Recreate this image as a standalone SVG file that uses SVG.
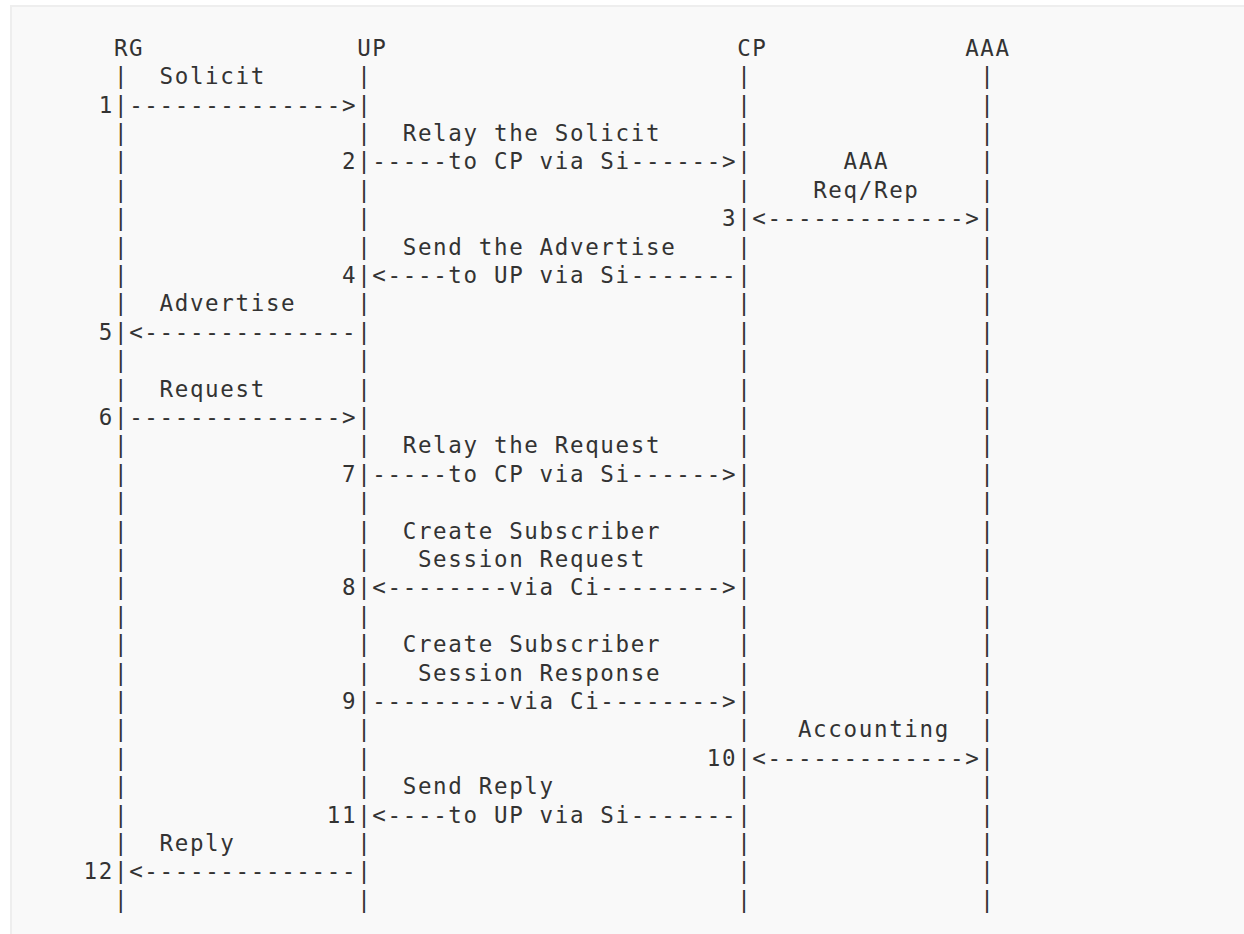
<svg xmlns="http://www.w3.org/2000/svg" width="1244" height="934" viewBox="0 0 1244 934">
<style>
text{font-family:"DejaVu Sans Mono","Liberation Mono",monospace;font-size:22.5px;letter-spacing:1.655px;fill:#333333;white-space:pre}
</style>
<rect x="0" y="0" width="1244" height="934" fill="#ffffff"/>
<rect x="11" y="6" width="1260" height="960" fill="#f9f9f9" stroke="#eeeeee" stroke-width="2"/>
<g id="node-RG">
<text x="113.93" y="55.7">RG</text>
<text><tspan x="113.93" y="84.1">|</tspan><tspan x="113.93" y="112.5">|</tspan><tspan x="113.93" y="140.9">|</tspan><tspan x="113.93" y="169.3">|</tspan><tspan x="113.93" y="197.7">|</tspan><tspan x="113.93" y="226.1">|</tspan><tspan x="113.93" y="254.5">|</tspan><tspan x="113.93" y="282.9">|</tspan><tspan x="113.93" y="311.3">|</tspan><tspan x="113.93" y="339.7">|</tspan><tspan x="113.93" y="368.1">|</tspan><tspan x="113.93" y="396.5">|</tspan><tspan x="113.93" y="424.9">|</tspan><tspan x="113.93" y="453.3">|</tspan><tspan x="113.93" y="481.7">|</tspan><tspan x="113.93" y="510.1">|</tspan><tspan x="113.93" y="538.5">|</tspan><tspan x="113.93" y="566.9">|</tspan><tspan x="113.93" y="595.3">|</tspan><tspan x="113.93" y="623.7">|</tspan><tspan x="113.93" y="652.1">|</tspan><tspan x="113.93" y="680.5">|</tspan><tspan x="113.93" y="708.9">|</tspan><tspan x="113.93" y="737.3">|</tspan><tspan x="113.93" y="765.7">|</tspan><tspan x="113.93" y="794.1">|</tspan><tspan x="113.93" y="822.5">|</tspan><tspan x="113.93" y="850.9">|</tspan><tspan x="113.93" y="879.3">|</tspan><tspan x="113.93" y="907.7">|</tspan></text>
</g>
<g id="node-UP">
<text x="357.13" y="55.7">UP</text>
<text><tspan x="357.13" y="84.1">|</tspan><tspan x="357.13" y="112.5">|</tspan><tspan x="357.13" y="140.9">|</tspan><tspan x="357.13" y="169.3">|</tspan><tspan x="357.13" y="197.7">|</tspan><tspan x="357.13" y="226.1">|</tspan><tspan x="357.13" y="254.5">|</tspan><tspan x="357.13" y="282.9">|</tspan><tspan x="357.13" y="311.3">|</tspan><tspan x="357.13" y="339.7">|</tspan><tspan x="357.13" y="368.1">|</tspan><tspan x="357.13" y="396.5">|</tspan><tspan x="357.13" y="424.9">|</tspan><tspan x="357.13" y="453.3">|</tspan><tspan x="357.13" y="481.7">|</tspan><tspan x="357.13" y="510.1">|</tspan><tspan x="357.13" y="538.5">|</tspan><tspan x="357.13" y="566.9">|</tspan><tspan x="357.13" y="595.3">|</tspan><tspan x="357.13" y="623.7">|</tspan><tspan x="357.13" y="652.1">|</tspan><tspan x="357.13" y="680.5">|</tspan><tspan x="357.13" y="708.9">|</tspan><tspan x="357.13" y="737.3">|</tspan><tspan x="357.13" y="765.7">|</tspan><tspan x="357.13" y="794.1">|</tspan><tspan x="357.13" y="822.5">|</tspan><tspan x="357.13" y="850.9">|</tspan><tspan x="357.13" y="879.3">|</tspan><tspan x="357.13" y="907.7">|</tspan></text>
</g>
<g id="node-CP">
<text x="737.13" y="55.7">CP</text>
<text><tspan x="737.13" y="84.1">|</tspan><tspan x="737.13" y="112.5">|</tspan><tspan x="737.13" y="140.9">|</tspan><tspan x="737.13" y="169.3">|</tspan><tspan x="737.13" y="197.7">|</tspan><tspan x="737.13" y="226.1">|</tspan><tspan x="737.13" y="254.5">|</tspan><tspan x="737.13" y="282.9">|</tspan><tspan x="737.13" y="311.3">|</tspan><tspan x="737.13" y="339.7">|</tspan><tspan x="737.13" y="368.1">|</tspan><tspan x="737.13" y="396.5">|</tspan><tspan x="737.13" y="424.9">|</tspan><tspan x="737.13" y="453.3">|</tspan><tspan x="737.13" y="481.7">|</tspan><tspan x="737.13" y="510.1">|</tspan><tspan x="737.13" y="538.5">|</tspan><tspan x="737.13" y="566.9">|</tspan><tspan x="737.13" y="595.3">|</tspan><tspan x="737.13" y="623.7">|</tspan><tspan x="737.13" y="652.1">|</tspan><tspan x="737.13" y="680.5">|</tspan><tspan x="737.13" y="708.9">|</tspan><tspan x="737.13" y="737.3">|</tspan><tspan x="737.13" y="765.7">|</tspan><tspan x="737.13" y="794.1">|</tspan><tspan x="737.13" y="822.5">|</tspan><tspan x="737.13" y="850.9">|</tspan><tspan x="737.13" y="879.3">|</tspan><tspan x="737.13" y="907.7">|</tspan></text>
</g>
<g id="node-AAA">
<text x="965.13" y="55.7">AAA</text>
<text><tspan x="980.33" y="84.1">|</tspan><tspan x="980.33" y="112.5">|</tspan><tspan x="980.33" y="140.9">|</tspan><tspan x="980.33" y="169.3">|</tspan><tspan x="980.33" y="197.7">|</tspan><tspan x="980.33" y="226.1">|</tspan><tspan x="980.33" y="254.5">|</tspan><tspan x="980.33" y="282.9">|</tspan><tspan x="980.33" y="311.3">|</tspan><tspan x="980.33" y="339.7">|</tspan><tspan x="980.33" y="368.1">|</tspan><tspan x="980.33" y="396.5">|</tspan><tspan x="980.33" y="424.9">|</tspan><tspan x="980.33" y="453.3">|</tspan><tspan x="980.33" y="481.7">|</tspan><tspan x="980.33" y="510.1">|</tspan><tspan x="980.33" y="538.5">|</tspan><tspan x="980.33" y="566.9">|</tspan><tspan x="980.33" y="595.3">|</tspan><tspan x="980.33" y="623.7">|</tspan><tspan x="980.33" y="652.1">|</tspan><tspan x="980.33" y="680.5">|</tspan><tspan x="980.33" y="708.9">|</tspan><tspan x="980.33" y="737.3">|</tspan><tspan x="980.33" y="765.7">|</tspan><tspan x="980.33" y="794.1">|</tspan><tspan x="980.33" y="822.5">|</tspan><tspan x="980.33" y="850.9">|</tspan><tspan x="980.33" y="879.3">|</tspan><tspan x="980.33" y="907.7">|</tspan></text>
</g>
<g id="connectors">
<text x="129.13" y="112.5">--------------&gt;</text>
<text x="372.33" y="169.3">-----to CP via Si------&gt;</text>
<text x="752.33" y="226.1">&lt;-------------&gt;</text>
<text x="372.33" y="282.9">&lt;----to UP via Si-------</text>
<text x="129.13" y="339.7">&lt;--------------</text>
<text x="129.13" y="424.9">--------------&gt;</text>
<text x="372.33" y="481.7">-----to CP via Si------&gt;</text>
<text x="372.33" y="595.3">&lt;--------via Ci--------&gt;</text>
<text x="372.33" y="708.9">---------via Ci--------&gt;</text>
<text x="752.33" y="765.7">&lt;-------------&gt;</text>
<text x="372.33" y="822.5">&lt;----to UP via Si-------</text>
<text x="129.13" y="879.3">&lt;--------------</text>
</g>
<g id="step-numbers">
<text x="98.73" y="112.5">1</text>
<text x="341.93" y="169.3">2</text>
<text x="721.93" y="226.1">3</text>
<text x="341.93" y="282.9">4</text>
<text x="98.73" y="339.7">5</text>
<text x="98.73" y="424.9">6</text>
<text x="341.93" y="481.7">7</text>
<text x="341.93" y="595.3">8</text>
<text x="341.93" y="708.9">9</text>
<text x="706.73" y="765.7">10</text>
<text x="326.73" y="822.5">11</text>
<text x="83.53" y="879.3">12</text>
</g>
<g id="labels">
<text x="159.53" y="84.1">Solicit</text>
<text x="402.73" y="140.9">Relay the Solicit</text>
<text x="843.53" y="169.3">AAA</text>
<text x="813.13" y="197.7">Req/Rep</text>
<text x="402.73" y="254.5">Send the Advertise</text>
<text x="159.53" y="311.3">Advertise</text>
<text x="159.53" y="396.5">Request</text>
<text x="402.73" y="453.3">Relay the Request</text>
<text x="402.73" y="538.5">Create Subscriber</text>
<text x="417.93" y="566.9">Session Request</text>
<text x="402.73" y="652.1">Create Subscriber</text>
<text x="417.93" y="680.5">Session Response</text>
<text x="797.93" y="737.3">Accounting</text>
<text x="402.73" y="794.1">Send Reply</text>
<text x="159.53" y="850.9">Reply</text>
</g>
</svg>
